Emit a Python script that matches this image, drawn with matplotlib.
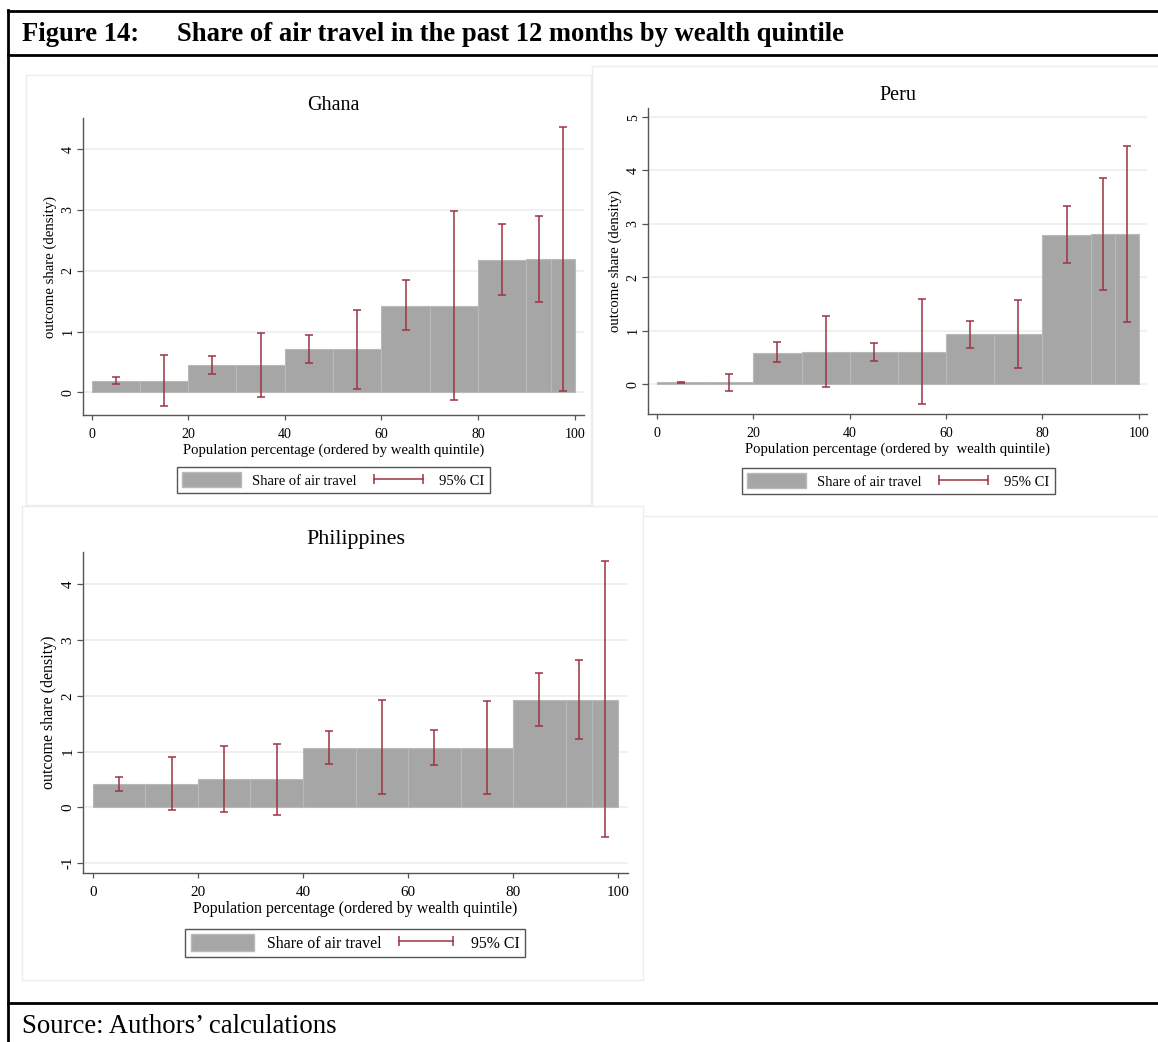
import matplotlib
matplotlib.use("Agg")
import matplotlib.pyplot as plt
from matplotlib.patches import Rectangle, Patch
from matplotlib.lines import Line2D

plt.rcParams['font.family'] = ['Liberation Serif', 'DejaVu Serif']

W, H = 1158, 1042

# bins: deciles, last decile split in two halves
bin_edges = [0, 10, 20, 30, 40, 50, 60, 70, 80, 90, 95, 100]
ci_x = [5, 15, 25, 35, 45, 55, 65, 75, 85, 92.5, 97.5]

ghana_share = [0.19, 0.19, 0.45, 0.45, 0.71, 0.71, 1.42, 1.42, 2.18, 2.19, 2.19]
ghana_lo = [0.14, -0.22, 0.31, -0.07, 0.48, 0.06, 1.03, -0.12, 1.60, 1.48, 0.02]
ghana_hi = [0.26, 0.62, 0.60, 0.98, 0.94, 1.36, 1.84, 2.99, 2.77, 2.90, 4.37]

peru_share = [0.03, 0.03, 0.59, 0.61, 0.60, 0.60, 0.93, 0.93, 2.80, 2.81, 2.81]
peru_lo = [0.02, -0.12, 0.42, -0.06, 0.44, -0.38, 0.68, 0.31, 2.27, 1.77, 1.17]
peru_hi = [0.04, 0.19, 0.78, 1.27, 0.77, 1.59, 1.19, 1.57, 3.33, 3.85, 4.45]

phil_share = [0.41, 0.41, 0.50, 0.50, 1.07, 1.07, 1.07, 1.07, 1.92, 1.93, 1.93]
phil_lo = [0.30, -0.05, -0.08, -0.14, 0.78, 0.23, 0.76, 0.24, 1.45, 1.22, -0.54]
phil_hi = [0.54, 0.90, 1.09, 1.14, 1.37, 1.93, 1.39, 1.91, 2.40, 2.64, 4.41]

x_ticks = [0, 20, 40, 60, 80, 100]

BAR = '#a6a6a6'
CI = '#9e3341'
GRID = '#e9f0f2'
SPINE = '#555555'

fig = plt.figure(figsize=(W / 100, H / 100), dpi=100)


def box(l, t, r, b):
    # pixel box (from top-left) -> figure fraction rect
    return [l / W, 1 - b / H, (r - l) / W, (b - t) / H]


def fline(x0, y0, x1, y1, lw=2.0, color='black'):
    fig.add_artist(Line2D([x0 / W, x1 / W], [1 - y0 / H, 1 - y1 / H],
                          transform=fig.transFigure, color=color, lw=lw))


# light panel outlines
for l, t, r, b in [(26, 75, 591, 505), (592, 66, 1160, 516), (22, 506, 643, 980)]:
    fig.add_artist(Rectangle((l / W, 1 - b / H), (r - l) / W, (b - t) / H,
                             transform=fig.transFigure, facecolor='white',
                             edgecolor='#ededed', lw=1.0, zorder=0))


def panel(rect, title, share, lo, hi, ylim, yticks, xlim, fs, tfs, legend_rect, xlab):
    ax = fig.add_axes(box(*rect))
    widths = [bin_edges[i + 1] - bin_edges[i] for i in range(len(share))]
    ax.bar(bin_edges[:-1], share, width=widths, align='edge', color=BAR,
           edgecolor='#b9b9b9', linewidth=0.8, zorder=2)
    mid = [(a + b) / 2 for a, b in zip(lo, hi)]
    err = [[m - a for m, a in zip(mid, lo)], [b - m for m, b in zip(mid, hi)]]
    ax.errorbar(ci_x, mid, yerr=err, fmt='none', ecolor=CI, elinewidth=1.1,
                capsize=2.8, capthick=1.1, zorder=3)
    ax.set_xlim(*xlim)
    ax.set_ylim(*ylim)
    ax.set_xticks(x_ticks)
    ax.set_yticks(yticks)
    ax.set_yticklabels([str(v) for v in yticks], rotation=90, va='center')
    ax.yaxis.grid(True, color=GRID, lw=1.2, zorder=0)
    ax.set_axisbelow(True)
    for s in ['top', 'right']:
        ax.spines[s].set_visible(False)
    for s in ['left', 'bottom']:
        ax.spines[s].set_color(SPINE)
        ax.spines[s].set_linewidth(1.0)
    ax.tick_params(axis='both', colors=SPINE, labelcolor='black', labelsize=fs,
                   width=0.9)
    ax.tick_params(axis='x', length=3.6, pad=6)
    ax.tick_params(axis='y', length=4, pad=2)
    ax.set_xlabel(xlab, fontsize=fs + 0.6, labelpad=1.5)
    ax.set_ylabel('outcome share (density)', fontsize=fs + 0.6, labelpad=3.5)
    ax.text(0.5, 1.026, title, transform=ax.transAxes, ha='center',
            va='baseline', fontsize=tfs)

    handles = [Patch(facecolor=BAR, edgecolor='#b9b9b9'),
               Line2D([], [], color=CI, lw=1.1, marker='|', markersize=7,
                      markeredgewidth=1.1)]
    l, t, r, b = legend_rect
    leg = fig.legend(handles, ['Share of air travel', '95% CI'], ncol=2,
                     loc='center', bbox_to_anchor=((l + r) / 2 / W, 1 - (t + b) / 2 / H),
                     fontsize=fs + 0.5, numpoints=2, handlelength=4.0, handleheight=1.2,
                     columnspacing=0.85, handletextpad=0.8, borderpad=0.35,
                     fancybox=False, framealpha=1, edgecolor='#555555')
    leg.get_frame().set_linewidth(1.0)
    return ax


panel((83, 118, 584, 415), 'Ghana', ghana_share, ghana_lo, ghana_hi,
      (-0.37, 4.51), [0, 1, 2, 3, 4], (-1.76, 101.9), 10, 14.5,
      (178, 467, 489, 493), 'Population percentage (ordered by wealth quintile)')
panel((648, 108, 1147, 414), 'Peru', peru_share, peru_lo, peru_hi,
      (-0.56, 5.17), [0, 1, 2, 3, 4, 5], (-1.88, 101.7), 10, 14.5,
      (742, 468, 1055, 494), 'Population percentage (ordered by  wealth quintile)')
panel((83, 552, 628, 873), 'Philippines', phil_share, phil_lo, phil_hi,
      (-1.18, 4.58), [-1, 0, 1, 2, 3, 4], (-1.9, 101.9), 10.9, 15.8,
      (186, 929, 524, 957), 'Population percentage (ordered by wealth quintile)')

# report frame
fline(8, 11, W + 2, 11)
fline(8, 55, W + 2, 55)
fline(8, 1003, W + 2, 1003)
fline(8, 10, 8, H + 2)

fig.text(22 / W, 1 - 41 / H, 'Figure 14:', fontsize=19.2, fontweight='bold', va='baseline')
fig.text(177 / W, 1 - 41 / H, 'Share of air travel in the past 12 months by wealth quintile',
         fontsize=19.2, fontweight='bold', va='baseline')
fig.text(22 / W, 1 - 1033 / H, 'Source: Authors\u2019 calculations', fontsize=19.3, va='baseline')

fig.savefig('out.png', dpi=100)
